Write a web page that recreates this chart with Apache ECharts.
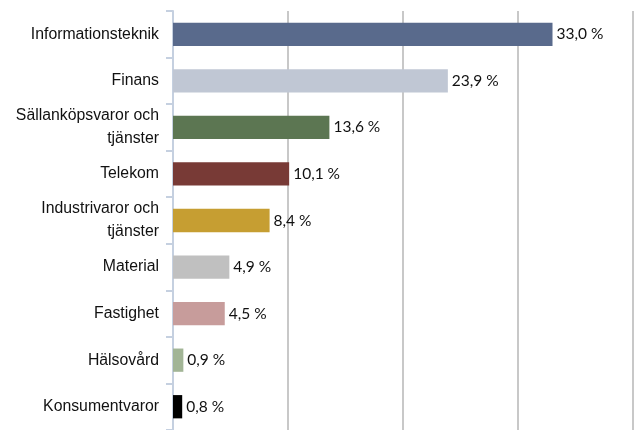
<!DOCTYPE html>
<html><head><meta charset="utf-8">
<script src="https://cdn.jsdelivr.net/npm/echarts@6/dist/echarts.min.js"></script>
<style>html,body{margin:0;padding:0;background:#fff}#c{width:635px;height:430px}</style>
</head><body><div id="c"></div>
<script>
var categories = ["Informationsteknik","Finans","Sällanköpsvaror och\ntjänster","Telekom","Industrivaror och\ntjänster","Material","Fastighet","Hälsovård","Konsumentvaror"];
var values = [33.0, 23.9, 13.6, 10.1, 8.4, 4.9, 4.5, 0.9, 0.8];
var colors = ["#596a8c","#c0c7d4","#5c7652","#783a36","#c69e32","#c0c0c0","#c79c9b","#a2b596","#000000"];

var chart = echarts.init(document.getElementById('c'));
chart.setOption({
  animation:false,
  grid:{left:173,right:2,top:11,bottom:-8,containLabel:false},
  xAxis:{type:'value',min:0,max:40,interval:10,position:'top',
    axisLabel:{show:false},axisTick:{show:false},axisLine:{show:false},
    splitLine:{show:true,lineStyle:{color:'#c8c8c8',width:2}}},
  yAxis:{type:'category',data:categories,inverse:true,
    axisLine:{show:true,lineStyle:{color:'#c5d0e0',width:2}},
    axisTick:{show:true,length:7,lineStyle:{color:'#c5d0e0',width:2}},
    axisLabel:{margin:14,fontFamily:'Liberation Sans, Arial',fontSize:15.8,color:'#111111',lineHeight:23,align:'right'}},
  series:[{type:'bar',data:values.map(function(v,i){return {value:v,itemStyle:{color:colors[i]}};}),
    barCategoryGap:'50%',
    label:{show:true,position:'right',distance:4,fontFamily:'Lato, Open Sans',fontSize:15.5,color:'#111111',
      formatter:function(p){return p.value.toFixed(1).replace('.',',')+' %';}}}]
});
</script></body></html>
